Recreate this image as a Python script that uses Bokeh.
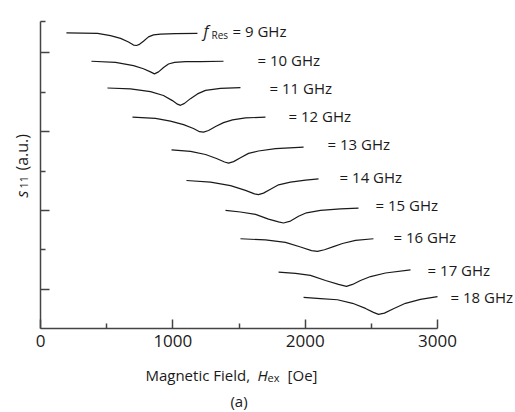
from bokeh.plotting import figure
from bokeh.models import Label, FixedTicker, Range1d
from bokeh.embed import file_html
from bokeh.resources import INLINE
import math

# ---- data (field in Oe, s11 in arbitrary units) ----
field_9 = [196, 431, 529, 605, 665, 703, 725, 748, 778, 816, 854, 907, 1020, 1186]
s11_9 = [7.51, 7.50, 7.44, 7.37, 7.28, 7.20, 7.19, 7.22, 7.30, 7.41, 7.46, 7.48, 7.49, 7.50]

field_10 = [385, 567, 703, 778, 831, 861, 892, 930, 967, 1013, 1096, 1209, 1383]
s11_10 = [6.79, 6.76, 6.68, 6.60, 6.52, 6.47, 6.52, 6.63, 6.72, 6.76, 6.78, 6.78, 6.79]

field_11 = [506, 680, 831, 929, 997, 1035, 1058, 1088, 1133, 1186, 1247, 1360, 1511]
s11_11 = [6.11, 6.09, 6.02, 5.92, 5.79, 5.70, 5.67, 5.72, 5.84, 5.96, 6.05, 6.10, 6.12]

field_12 = [695, 869, 982, 1081, 1156, 1202, 1232, 1270, 1323, 1383, 1451, 1549, 1700]
s11_12 = [5.37, 5.34, 5.27, 5.18, 5.08, 5.00, 4.99, 5.03, 5.13, 5.23, 5.30, 5.35, 5.37]

field_13 = [990, 1134, 1247, 1330, 1391, 1421, 1459, 1511, 1572, 1647, 1776, 1988]
s11_13 = [4.54, 4.50, 4.42, 4.32, 4.23, 4.20, 4.24, 4.34, 4.45, 4.51, 4.57, 4.61]

field_14 = [1103, 1285, 1436, 1549, 1617, 1647, 1685, 1738, 1799, 1889, 2003, 2101]
s11_14 = [3.76, 3.72, 3.63, 3.51, 3.42, 3.40, 3.44, 3.54, 3.65, 3.72, 3.77, 3.80]

field_15 = [1398, 1511, 1625, 1723, 1799, 1836, 1889, 1950, 2010, 2116, 2267, 2403]
s11_15 = [3.00, 2.96, 2.90, 2.78, 2.71, 2.68, 2.73, 2.85, 2.94, 3.00, 3.04, 3.06]

field_16 = [1511, 1700, 1851, 1965, 2048, 2093, 2146, 2214, 2282, 2380, 2516]
s11_16 = [2.28, 2.25, 2.19, 2.07, 1.98, 1.96, 2.00, 2.08, 2.16, 2.24, 2.28]

field_17 = [1799, 1927, 2040, 2154, 2252, 2312, 2358, 2418, 2494, 2607, 2796]
s11_17 = [1.43, 1.40, 1.35, 1.22, 1.12, 1.07, 1.12, 1.22, 1.32, 1.41, 1.49]

field_18 = [1988, 2116, 2244, 2358, 2456, 2516, 2554, 2599, 2667, 2758, 2871, 3000]
s11_18 = [0.79, 0.76, 0.73, 0.64, 0.51, 0.41, 0.36, 0.39, 0.50, 0.64, 0.74, 0.81]

freq_labels = ["= 9 GHz", "= 10 GHz", "= 11 GHz", "= 12 GHz", "= 13 GHz",
               "= 14 GHz", "= 15 GHz", "= 16 GHz", "= 17 GHz", "= 18 GHz"]
label_field = [1451, 1640, 1731, 1874, 2169, 2260, 2532, 2668, 2925, 3098]
label_s11 = [7.564, 6.834, 6.123, 5.394, 4.675, 3.854, 3.133, 2.330, 1.499, 0.806]

x_ticks = [0, 1000, 2000, 3000]
x_minor = [500, 1500, 2500]
y_ticks = [1, 3, 5, 7]
y_minor = [2, 4, 6, 7.8]

series = [(field_9, s11_9), (field_10, s11_10), (field_11, s11_11),
          (field_12, s11_12), (field_13, s11_13), (field_14, s11_14),
          (field_15, s11_15), (field_16, s11_16), (field_17, s11_17),
          (field_18, s11_18)]

FONT = "Open Sans"
INK = "#1a1a1a"

# frame covers the whole canvas; axes are pinned at the data origin
p = figure(width=515, height=412, output_backend="svg", toolbar_location=None,
           x_range=Range1d(-302.27, 3589.4), y_range=Range1d(-2.1342, 8.3335),
           min_border=0)
p.outline_line_color = None
p.xgrid.visible = False
p.ygrid.visible = False
p.background_fill_color = "white"
p.border_fill_color = "white"

for fx, fy in series:
    p.line(fx, fy, line_color=INK, line_width=1.2)

# axes
for ax in (p.xaxis[0], p.yaxis[0]):
    ax.fixed_location = 0
    ax.axis_line_color = "#444444"
    ax.axis_line_width = 1.5
    ax.major_tick_line_color = "#444444"
    ax.minor_tick_line_color = "#444444"
    ax.major_tick_line_width = 1.5
    ax.minor_tick_line_width = 1.5
    ax.major_tick_out = 0
    ax.minor_tick_out = 0
    ax.major_tick_in = 9
    ax.minor_tick_in = 5

p.xaxis.bounds = (0, 3000)
p.yaxis.bounds = (0, 7.8)

p.xaxis.ticker = FixedTicker(ticks=x_ticks, minor_ticks=x_minor)
p.xaxis.major_label_overrides = {t: str(t) for t in x_ticks}
p.xaxis.major_label_text_font = FONT
p.xaxis.major_label_text_font_size = "17px"
p.xaxis.major_label_text_color = INK
p.xaxis.major_label_standoff = 7

p.yaxis.ticker = FixedTicker(ticks=y_ticks, minor_ticks=y_minor)
p.yaxis.major_label_overrides = {t: "" for t in y_ticks}
p.yaxis.major_label_text_font_size = "1px"
p.yaxis.major_label_standoff = 0

# frequency labels
for txt, lx, ly in zip(freq_labels, label_field, label_s11):
    p.add_layout(Label(x=lx, y=ly, text=txt, text_font=FONT, text_font_size="15px",
                       text_color=INK, text_align="left", text_baseline="alphabetic"))
p.add_layout(Label(x=1232, y=7.564, text="f", text_font=FONT, text_font_size="16px",
                   text_font_style="italic", text_color=INK, text_baseline="alphabetic"))
p.add_layout(Label(x=1292, y=7.452, text="Res", text_font=FONT, text_font_size="10px",
                   text_color=INK, text_baseline="alphabetic"))

# x-axis title
p.add_layout(Label(x=793, y=-1.169, text="Magnetic Field,", text_font=FONT,
                   text_font_size="15px", text_color=INK, text_baseline="alphabetic"))
p.add_layout(Label(x=1640, y=-1.169, text="H", text_font=FONT, text_font_size="15px",
                   text_font_style="italic", text_color=INK, text_baseline="alphabetic"))
p.add_layout(Label(x=1715, y=-1.245, text="ex", text_font=FONT, text_font_size="11px",
                   text_color=INK, text_baseline="alphabetic"))
p.add_layout(Label(x=1867, y=-1.169, text="[Oe]", text_font=FONT, text_font_size="15px",
                   text_color=INK, text_baseline="alphabetic"))
p.add_layout(Label(x=1500, y=-1.83, text="(a)", text_font=FONT, text_font_size="15px",
                   text_color=INK, text_align="center", text_baseline="alphabetic"))

# y-axis title (rotated)
ang = math.pi / 2
p.add_layout(Label(x=-140, y=3.328, text="s", angle=ang, text_font=FONT,
                   text_font_size="16px", text_font_style="italic", text_color=INK,
                   text_baseline="alphabetic"))
p.add_layout(Label(x=-121, y=3.557, text="11", angle=ang, text_font=FONT,
                   text_font_size="11px", text_color=INK, text_baseline="alphabetic"))
p.add_layout(Label(x=-140, y=4.014, text="(a.u.)", angle=ang, text_font=FONT,
                   text_font_size="16px", text_color=INK, text_baseline="alphabetic"))

open("out.html", "w").write(file_html(p, INLINE))
